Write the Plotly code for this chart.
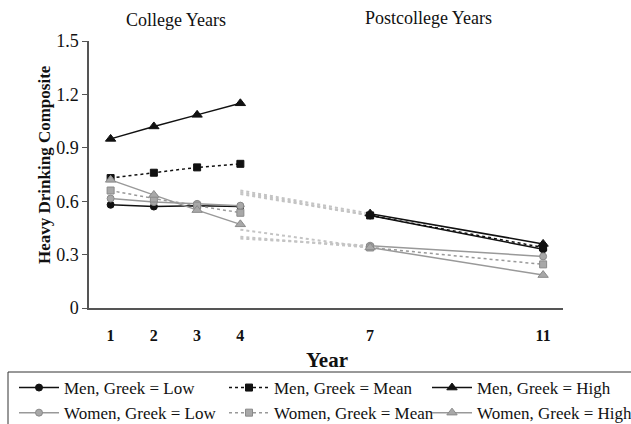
import plotly.graph_objects as go

# ---- data ----
college_years = [1, 2, 3, 4]
post_years = [4, 7, 11]          # year-4 value = faint back-extension of postcollege line
tick_vals = [1, 2, 3, 4, 7, 11]
tick_text = ["1", "2", "3", "4", "7", "11"]
y_ticks = [0, 0.3, 0.6, 0.9, 1.2, 1.5]
y_tick_text = ["0", "0.3", "0.6", "0.9", "1.2", "1.5"]

series_names = ["Men, Greek = Low", "Men, Greek = Mean", "Men, Greek = High",
                "Women, Greek = Low", "Women, Greek = Mean", "Women, Greek = High"]

men_low_college = [0.58, 0.57, 0.575, 0.57]
men_mean_college = [0.73, 0.76, 0.79, 0.81]
men_high_college = [0.95, 1.02, 1.085, 1.15]
women_low_college = [0.615, 0.595, 0.585, 0.575]
women_mean_college = [0.66, 0.615, 0.575, 0.535]
women_high_college = [0.72, 0.635, 0.55, 0.47]

men_low_post = [0.64, 0.52, 0.33]
men_mean_post = [0.65, 0.52, 0.34]
men_high_post = [0.66, 0.53, 0.36]
women_low_post = [0.39, 0.35, 0.29]
women_mean_post = [0.40, 0.34, 0.245]
women_high_post = [0.44, 0.34, 0.185]

college = [men_low_college, men_mean_college, men_high_college,
           women_low_college, women_mean_college, women_high_college]
post = [men_low_post, men_mean_post, men_high_post,
        women_low_post, women_mean_post, women_high_post]

# ---- styles ----
SERIF = "Liberation Serif, Times New Roman, serif"
symbols = ["circle", "square", "triangle-up"] * 2
dashes = ["solid", "dot", "solid"] * 2
line_colors = ["#111111"] * 3 + ["#999999"] * 3
marker_colors = ["#111111"] * 3 + ["#a8a8a8"] * 3
marker_lines = ["#111111"] * 3 + ["#8a8a8a"] * 3
msizes = [7, 7, 9, 7, 7, 9]
legend_ids = ["legend", "legend2", "legend3"] * 2

fig = go.Figure()

# faint connectors (year 4 -> 7)
for i in range(6):
    fig.add_trace(go.Scatter(
        x=post_years[:2], y=post[i][:2], mode="lines",
        line=dict(color="#c4c4c4", width=2, dash="dot"),
        showlegend=False, hoverinfo="skip"))

for i in range(6):
    mk = dict(symbol=symbols[i], size=msizes[i], color=marker_colors[i],
              line=dict(color=marker_lines[i], width=1))
    ln = dict(color=line_colors[i], width=1.5, dash=dashes[i])
    fig.add_trace(go.Scatter(
        x=college_years, y=college[i], mode="lines+markers",
        name=series_names[i], line=ln, marker=mk, showlegend=True,
        legend=legend_ids[i], legendgroup=series_names[i]))
    fig.add_trace(go.Scatter(
        x=post_years[1:], y=post[i][1:], mode="lines+markers",
        name=series_names[i], line=ln, marker=mk, showlegend=False,
        legend=legend_ids[i], legendgroup=series_names[i]))

W, H = 631, 424
ML, MR, MT, MB = 89, 68, 41, 116


def px_to_paper_x(px):
    return (px - ML) / (W - ML - MR)


def px_to_paper_y(py):
    return (H - MB - py) / (H - MT - MB)


leg_common = dict(orientation="v", xref="container", yref="container",
                  xanchor="left", yanchor="top", y=(H - 370) / H,
                  bgcolor="rgba(0,0,0,0)", borderwidth=0,
                  font=dict(family=SERIF, size=17, color="#111111"),
                  itemwidth=40, traceorder="grouped", tracegroupgap=0)

fig.update_layout(
    width=W, height=H,
    margin=dict(l=ML, r=MR, t=MT, b=MB, autoexpand=False),
    paper_bgcolor="white", plot_bgcolor="white",
    font=dict(family=SERIF, color="#111111", size=17),
    xaxis=dict(range=[0.5, 11.46], tickvals=tick_vals, ticktext=tick_text,
               showgrid=False, zeroline=False, showline=True,
               linecolor="#555555", linewidth=1.5, ticks="",
               tickfont=dict(family=SERIF, size=16, color="#111111", weight="bold"),
               ticklabelstandoff=12),
    yaxis=dict(range=[0, 1.5], tickvals=y_ticks, ticktext=y_tick_text,
               showgrid=False, zeroline=False, showline=True,
               linecolor="#555555", linewidth=1.5, ticks="outside",
               ticklen=5, tickcolor="#555555", tickwidth=1.2,
               tickfont=dict(family=SERIF, size=18, color="#111111")),
    legend=dict(x=14 / W, **leg_common),
    legend2=dict(x=224 / W, **leg_common),
    legend3=dict(x=427 / W, **leg_common),
    shapes=[dict(type="rect", xref="paper", yref="paper",
                 x0=px_to_paper_x(8), x1=px_to_paper_x(W + 20),
                 y0=px_to_paper_y(H + 20), y1=px_to_paper_y(372),
                 line=dict(color="#333333", width=1), fillcolor="rgba(0,0,0,0)",
                 layer="below")],
    annotations=[
        dict(text="College Years", x=2.5, xref="x", y=px_to_paper_y(20), yref="paper",
             showarrow=False, font=dict(family=SERIF, size=18, color="#111111"),
             xanchor="center", yanchor="middle"),
        dict(text="Postcollege Years", x=8.34, xref="x", y=px_to_paper_y(18), yref="paper",
             showarrow=False, font=dict(family=SERIF, size=18, color="#111111"),
             xanchor="center", yanchor="middle"),
        dict(text="Heavy Drinking Composite", x=px_to_paper_x(44), xref="paper",
             y=px_to_paper_y(165), yref="paper", textangle=-90, showarrow=False,
             font=dict(family=SERIF, size=17, color="#111111", weight="bold"),
             xanchor="center", yanchor="middle"),
        dict(text="Year", x=6, xref="x", y=px_to_paper_y(360), yref="paper", showarrow=False,
             font=dict(family=SERIF, size=21, color="#111111", weight="bold"),
             xanchor="center", yanchor="middle"),
    ],
)

fig.write_html("out.html", config={"displayModeBar": False},
               post_script="document.body.style.margin='0';document.body.style.overflow='hidden';")
